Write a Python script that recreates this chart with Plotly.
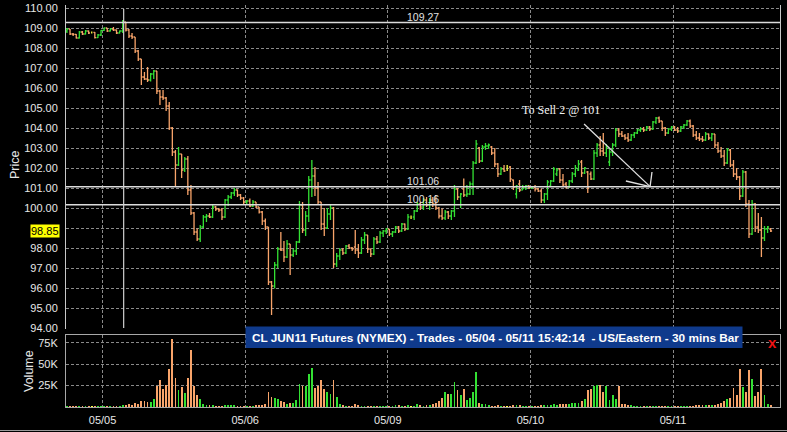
import plotly.graph_objects as go

# ---------------- data (30-min bars, CL JUN11, 05/04 18:00 -> 05/11 15:30) ----------------
opens = [
108.85,108.95,108.70,108.68,108.50,108.80,108.70,108.85,108.78,108.78,
108.52,108.65,108.88,109.00,108.85,108.95,108.90,108.75,108.85,109.30,
108.90,108.60,108.55,107.85,107.45,106.55,106.45,106.40,106.70,106.85,
105.85,105.55,105.50,105.10,104.00,102.80,102.15,102.70,101.90,102.45,
100.90,99.75,98.80,98.45,99.05,99.55,99.60,99.55,100.05,99.95,
99.90,99.55,100.40,100.55,100.75,100.90,100.65,100.50,100.30,100.35,
100.10,100.30,100.05,99.80,99.35,99.05,96.30,96.10,97.15,97.95,
97.90,97.55,98.20,97.65,97.85,98.30,100.15,98.90,99.60,101.40,
101.60,101.00,100.30,99.20,99.00,99.70,100.00,97.20,97.60,97.90,
97.75,98.10,98.00,98.05,97.90,97.75,98.40,98.65,97.95,97.70,
98.45,98.30,98.75,98.85,98.95,98.70,98.80,99.05,98.85,99.20,
98.95,99.55,99.55,99.85,100.20,100.05,100.40,100.15,100.40,100.20,
100.00,99.60,99.50,99.80,99.60,99.85,100.95,100.55,100.95,100.65,
100.70,101.20,102.25,103.00,102.35,103.05,103.10,103.05,102.75,102.20,
101.70,101.95,102.05,102.05,101.40,100.70,101.20,100.90,101.00,101.10,
101.00,101.05,100.95,100.85,100.40,100.70,101.10,101.35,101.70,101.95,
101.40,101.20,101.05,101.35,101.70,101.90,102.30,101.75,101.80,101.70,
101.45,102.75,103.15,102.85,102.75,102.30,102.80,103.15,103.90,103.70,
103.60,103.50,103.40,103.65,103.75,103.90,103.95,103.90,104.05,103.95,
104.30,104.50,104.35,104.00,103.75,103.95,104.05,103.90,103.85,104.05,
104.15,104.35,104.10,103.65,103.50,103.45,103.40,103.70,103.50,103.70,
103.15,102.85,102.60,102.25,102.90,102.15,101.70,101.55,100.60,101.80,
100.20,98.70,100.20,99.05,98.90,98.50,98.95,98.95]
highs = [
109.00,108.95,108.75,108.70,108.85,108.85,108.90,108.88,108.82,108.80,
108.70,108.90,109.02,109.00,109.00,109.05,108.92,108.88,109.40,109.30,
108.95,108.75,108.55,107.90,107.45,106.80,107.05,106.75,106.90,106.85,
105.90,105.90,105.55,105.30,104.05,102.90,103.05,102.70,102.55,102.60,
101.15,99.80,98.98,99.15,99.65,99.70,99.75,100.15,100.10,100.00,
100.00,100.45,100.65,100.80,101.00,100.92,100.70,100.55,100.40,100.48,
100.40,100.30,100.05,99.85,99.48,99.05,96.35,97.30,98.05,98.80,
98.35,98.40,98.20,97.95,98.35,100.35,100.30,99.85,101.60,102.40,
102.05,101.30,100.30,100.00,100.00,100.15,100.05,97.75,98.00,98.00,
98.15,98.20,98.05,98.90,98.20,98.55,98.80,98.65,97.98,98.55,
98.60,98.85,98.90,99.00,98.95,98.85,99.10,99.10,99.25,99.22,
99.70,99.62,99.90,100.30,100.30,100.50,100.55,100.50,100.55,100.65,
100.05,99.98,99.90,99.85,99.90,101.15,101.00,100.75,101.48,101.15,
101.32,102.35,103.40,103.05,103.15,103.25,103.22,103.10,103.00,102.25,
102.05,102.15,102.15,102.10,101.42,101.15,101.40,101.15,101.15,101.15,
101.10,101.15,101.00,100.98,100.75,101.40,101.40,102.05,102.00,102.00,
101.70,101.30,101.40,101.80,102.15,102.40,102.40,102.05,101.85,101.82,
102.90,103.25,103.60,103.75,103.20,102.95,103.25,104.00,104.00,103.85,
103.70,103.75,103.70,103.80,103.95,104.05,104.05,104.10,104.10,104.35,
104.55,104.58,104.35,104.05,104.00,104.10,104.10,104.05,104.10,104.20,
104.40,104.42,104.15,103.85,103.75,103.60,103.80,103.72,103.75,103.70,
103.30,103.05,102.90,103.00,102.95,102.40,102.00,101.60,101.90,101.85,
100.40,100.40,100.25,99.75,99.55,99.10,99.10,99.00]
lows = [
108.75,108.65,108.60,108.48,108.48,108.65,108.68,108.70,108.72,108.48,
108.50,108.60,108.85,108.80,108.82,108.85,108.70,108.72,108.75,108.82,
108.50,108.45,107.75,107.35,106.15,106.40,106.30,106.32,106.45,105.70,
105.15,105.40,104.85,103.90,102.60,101.10,102.10,101.50,101.80,100.65,
99.65,98.65,98.35,98.30,99.00,99.30,99.50,99.50,99.85,99.80,
99.40,99.50,100.10,100.45,100.60,100.55,100.40,100.20,100.15,100.05,
100.05,100.00,99.72,99.15,98.90,96.15,94.65,95.98,97.00,97.85,
97.30,97.50,96.65,97.55,97.65,98.25,98.75,98.60,99.30,100.55,
100.60,100.15,98.90,98.60,98.95,99.40,97.00,97.05,97.40,97.65,
97.70,97.95,97.85,97.70,97.50,97.70,98.20,97.75,97.55,97.65,
98.20,98.25,98.55,98.70,98.60,98.55,98.75,98.75,98.80,98.85,
98.90,99.45,99.40,99.80,99.90,99.90,100.05,99.90,100.05,99.90,
99.48,99.40,99.40,99.45,99.40,99.55,100.40,100.00,100.55,100.55,
100.65,100.65,102.20,102.25,102.30,102.90,102.95,102.65,102.05,101.55,
101.65,101.80,101.85,101.30,100.90,100.48,100.80,100.90,100.90,100.95,
100.95,100.82,100.80,100.25,100.25,100.40,101.05,101.30,101.60,101.25,
101.05,100.98,101.00,101.25,101.55,101.85,101.55,101.70,100.75,101.40,
101.40,102.55,102.60,102.60,102.55,102.10,102.60,103.05,103.55,103.55,
103.40,103.30,103.35,103.50,103.70,103.80,103.80,103.85,103.85,103.90,
104.20,104.25,103.85,103.60,103.70,103.85,103.85,103.75,103.80,103.95,
104.10,104.00,103.55,103.40,103.35,103.30,103.35,103.40,103.35,103.00,
102.75,102.50,102.10,102.20,102.05,101.55,101.40,100.40,100.55,100.05,
98.50,98.65,98.80,98.75,97.55,98.35,98.75,98.80]
closes = [
108.95,108.70,108.68,108.50,108.80,108.70,108.85,108.75,108.78,108.52,
108.65,108.88,109.00,108.85,108.95,108.90,108.75,108.85,109.30,108.90,
108.60,108.55,107.85,107.45,106.55,106.45,106.40,106.70,106.85,105.85,
105.55,105.50,105.10,104.00,102.80,102.15,102.70,101.90,102.45,100.90,
99.75,98.80,98.45,99.05,99.55,99.60,99.55,100.05,99.95,99.90,
99.55,100.40,100.55,100.75,100.90,100.65,100.50,100.30,100.35,100.10,
100.30,100.05,99.80,99.35,99.05,96.30,96.10,97.15,97.95,97.90,
97.55,98.20,97.65,97.85,98.30,100.15,98.90,99.60,101.40,101.60,
101.00,100.30,99.20,99.00,99.70,100.00,97.20,97.60,97.90,97.75,
98.10,98.00,97.95,97.90,97.75,98.40,98.65,97.95,97.70,98.45,
98.30,98.75,98.85,98.95,98.70,98.80,99.05,98.85,99.20,98.95,
99.55,99.55,99.85,100.20,100.05,100.40,100.15,100.40,100.20,100.00,
99.60,99.50,99.80,99.60,99.85,100.95,100.55,100.70,100.65,100.70,
101.20,102.25,103.20,102.35,103.05,103.10,103.15,102.75,102.20,101.70,
101.95,101.85,102.05,101.45,101.05,101.10,100.90,101.05,101.10,101.00,
101.05,100.95,100.85,100.40,100.70,101.30,101.35,101.95,101.90,101.40,
101.15,101.05,101.35,101.70,102.00,102.20,101.75,102.00,101.00,101.45,
102.75,103.15,102.85,102.75,103.05,102.80,103.15,103.90,103.70,103.60,
103.50,103.40,103.65,103.75,103.90,103.95,103.90,104.05,103.95,104.30,
104.50,104.35,104.00,103.75,103.95,104.05,103.90,103.85,104.05,104.15,
104.35,104.10,103.65,103.50,103.45,103.40,103.70,103.50,103.70,103.15,
102.85,102.60,102.25,102.90,102.15,101.70,101.55,100.60,101.80,100.20,
98.70,100.20,99.05,98.90,98.50,98.95,99.05,98.85]
volume_k = [
0.5,0.4,0.3,0.4,0.5,0.3,0.4,0.3,0.3,0.5,
0.4,0.3,0.4,0.5,0.6,0.5,0.7,0.8,2.0,1.5,
3.0,2.5,5.0,4.0,6.5,7.0,6.0,6.0,9.5,25,
32,21,26,44,79,34,19.5,23,16,34,
67,25,14,9,3,1.5,2,1.5,0.8,0.6,
0.5,1.5,1.2,1.5,2.0,1.0,0.6,0.5,0.4,0.8,
1.0,1.5,2.5,2.0,3.0,17.5,12,10.5,9,6.6,
6,4,5,5,8,27,25,24.5,39,46,
22,25,31,21,18,15.6,32,12,4,2,
1,0.6,0.5,3,2,1,0.8,1,0.8,1,
0.7,1,0.8,0.9,0.6,0.8,1.2,1.5,0.8,1.0,
2,1,1,4,2,1,2,2.5,4,5,
6.6,10,17.5,15.6,15.6,29,19.5,13.6,21,8,
10.5,18,41,5,3,3.5,1.2,0.8,0.6,2,
0.5,0.6,0.5,0.5,2,2,1.2,0.6,0.5,0.4,
0.5,0.6,1.0,2,1.2,1.5,2.5,3.5,2.5,3.5,
4,3.5,4,4.5,5,5,6.6,9,19.5,21,
24.5,26,26,18,25,8,13.6,9,24,4,
3,2,1.5,1.0,0.5,0.4,0.5,0.4,0.6,0.5,
1.0,0.8,0.5,0.8,0.4,0.4,0.3,0.4,0.5,0.6,
0.5,0.5,1.0,2,2.5,2,2,2,2.5,2.5,
4,4.5,6.6,9,10,22,13.6,45,23,17.5,
43,33,12.5,17.5,45,13.6,4,2]

day_labels = ['05/05', '05/06', '05/09', '05/10', '05/11']
day_positions = [11.5, 57.5, 103.5, 149.5, 195.5]
price_ticks = list(range(94, 111))
volume_ticks = [25, 50, 75]
volume_tick_text = ['25K', '50K', '75K']
levels = [109.27, 101.06, 100.16]
last_price = 98.85
cursor_bar = 18.3
note_text = 'To Sell 2 @ 101'
title_text = 'CL JUN11 Futures (NYMEX) - Trades - 05/04 - 05/11 15:42:14  - US/Eastern - 30 mins Bar'

# ---------------- styling ----------------
W, H = 787, 432
GREEN = '#33e033'
ORANGE = '#f8a46a'
YELLOW = '#ffff40'
GRID = '#8a8a8a'
TXT = '#e8e8e8'
FONT = "Arial, 'Liberation Sans', sans-serif"
X0, X1 = 66, 780
XR = [-0.3, 230]

x = list(range(len(closes)))

def bar_color(o, c):
    if c > o:
        return GREEN
    if c < o:
        return ORANGE
    return YELLOW

colors = [bar_color(o, c) for o, c in zip(opens, closes)]

fig = go.Figure()
for col in (GREEN, ORANGE, YELLOW):
    idx = [i for i in x if colors[i] == col]
    if not idx:
        continue
    gaps = [b - a for a, b in zip(idx, idx[1:])]
    mg = min(gaps) if gaps else 1
    fig.add_trace(go.Ohlc(
        x=idx,
        open=[opens[i] for i in idx], high=[highs[i] for i in idx],
        low=[lows[i] for i in idx], close=[closes[i] for i in idx],
        increasing=dict(line=dict(color=col, width=1.3)),
        decreasing=dict(line=dict(color=col, width=1.3)),
        tickwidth=min(0.45 / mg, 0.5), hoverinfo='skip', xaxis='x', yaxis='y'))

fig.add_trace(go.Bar(x=x, y=volume_k, marker=dict(color=colors, line=dict(width=0)),
                     width=0.28, xaxis='x2', yaxis='y2', hoverinfo='skip'))

def py(p):  # pixel -> paper y
    return (H - p) / H

grid_common = dict(showgrid=True, gridcolor=GRID, gridwidth=1, griddash='3px,2px',
                   zeroline=False, automargin=False)

fig.update_layout(
    width=W, height=H, margin=dict(l=0, r=0, t=0, b=0, autoexpand=False),
    paper_bgcolor='black', plot_bgcolor='black', showlegend=False,
    font=dict(family=FONT, color=TXT, size=11),
    xaxis=dict(domain=[X0 / W, X1 / W], range=XR, anchor='y', tickvals=day_positions,
               showticklabels=False, ticks='', showline=False,
               rangeslider=dict(visible=False), **grid_common),
    yaxis=dict(domain=[py(329), py(5)], range=[93.95, 110.15], anchor='x',
               tickvals=price_ticks,
               ticktext=['' if v == 99 else f'{v:.2f}' for v in price_ticks],
               ticks='outside', ticklen=5, tickcolor='black',
               showline=True, linecolor='#c8c8c8', linewidth=1, mirror=True,
               tickfont=dict(size=11, color=TXT), **grid_common),
    xaxis2=dict(domain=[X0 / W, X1 / W], range=XR, anchor='y2', tickvals=day_positions,
                ticktext=day_labels, ticks='outside', ticklen=3, tickcolor='black',
                showline=True, linecolor='#a8a8a8', mirror=True,
                tickfont=dict(size=11, color=TXT), **grid_common),
    yaxis2=dict(domain=[py(407), py(335)], range=[0, 84.2], anchor='x2',
                tickvals=volume_ticks, ticktext=volume_tick_text,
                ticks='outside', ticklen=5, tickcolor='black',
                showline=True, linecolor='#a8a8a8', mirror=True,
                tickfont=dict(size=11, color=TXT), **grid_common),
    bargap=0,
)

shapes = []
for lv in levels:
    shapes.append(dict(type='line', xref='x', yref='y', x0=XR[0], x1=XR[1], y0=lv, y1=lv,
                       line=dict(color='#dcdcdc', width=1.5)))
shapes.append(dict(type='line', xref='x', yref='y', x0=cursor_bar, x1=cursor_bar, y0=94.0, y1=109.95,
                   line=dict(color='#d0d0d0', width=1.2)))
# arrow of the note
arrow_start = (166.8, 104.2)
arrow_tip = (188.1, 101.07)
arrow_heads = [(180.3, 101.35), (188.7, 101.8)]
shapes.append(dict(type='line', xref='x', yref='y', x0=arrow_start[0], y0=arrow_start[1],
                   x1=arrow_tip[0], y1=arrow_tip[1], line=dict(color='#e0e0e0', width=1.3)))
for hx, hy in arrow_heads:
    shapes.append(dict(type='line', xref='x', yref='y', x0=arrow_tip[0], y0=arrow_tip[1],
                       x1=hx, y1=hy, line=dict(color='#e0e0e0', width=1.3)))
# title banner
shapes.append(dict(type='rect', xref='paper', yref='paper', x0=245.5 / W, x1=742.5 / W,
                   y0=py(348), y1=py(326.5), fillcolor='#0f3a8c', line=dict(width=0), layer='above'))
# scrollbar line at the bottom
shapes.append(dict(type='line', xref='paper', yref='paper', x0=0, x1=1, y0=py(430.5), y1=py(430.5),
                   line=dict(color='#9a9a9a', width=1)))
fig.update_layout(shapes=shapes)

ann = []
for lv in levels:
    ann.append(dict(xref='x', yref='y', x=114.7, y=lv, yshift=6, xanchor='center', text=f'{lv:.2f}',
                    showarrow=False, font=dict(size=10.5, color='#e0e0e0', family=FONT)))
ann.append(dict(xref='x', yref='y', x=146.1, y=104.9, xanchor='left', yanchor='middle', text=note_text,
                showarrow=False, font=dict(size=12, color='#f0f0f0',
                                           family="'Liberation Serif', 'DejaVu Serif', serif")))
ann.append(dict(xref='paper', yref='y', x=60.5 / W, y=last_price, xanchor='right', yanchor='middle',
                text=f'{last_price:.2f}', showarrow=False, bgcolor='#ffff00', borderpad=0,
                font=dict(size=11, color='black', family=FONT)))
ann.append(dict(xref='paper', yref='paper', x=15 / W, y=py(165), xanchor='center', yanchor='middle',
                text='Price', textangle=-90,
                showarrow=False, font=dict(size=12.5, color=TXT, family=FONT)))
ann.append(dict(xref='paper', yref='paper', x=29 / W, y=py(371), xanchor='center', yanchor='middle',
                text='Volume', textangle=-90,
                showarrow=False, font=dict(size=12.5, color=TXT, family=FONT)))
ann.append(dict(xref='paper', yref='paper', x=250 / W, y=py(337.5), xanchor='left', yanchor='middle',
                text=f'<b>{title_text}</b>', showarrow=False,
                font=dict(size=11.8, color='white', family=FONT)))
ann.append(dict(xref='paper', yref='paper', x=772 / W, y=py(342), xanchor='center', yanchor='middle',
                text='<b>x</b>', showarrow=False,
                font=dict(size=15, color='#ee1111', family=FONT)))
fig.update_layout(annotations=ann)

fig.write_html('out.html', config={'displayModeBar': False},
               post_script="document.body.style.margin='0';document.body.style.background='black';")
